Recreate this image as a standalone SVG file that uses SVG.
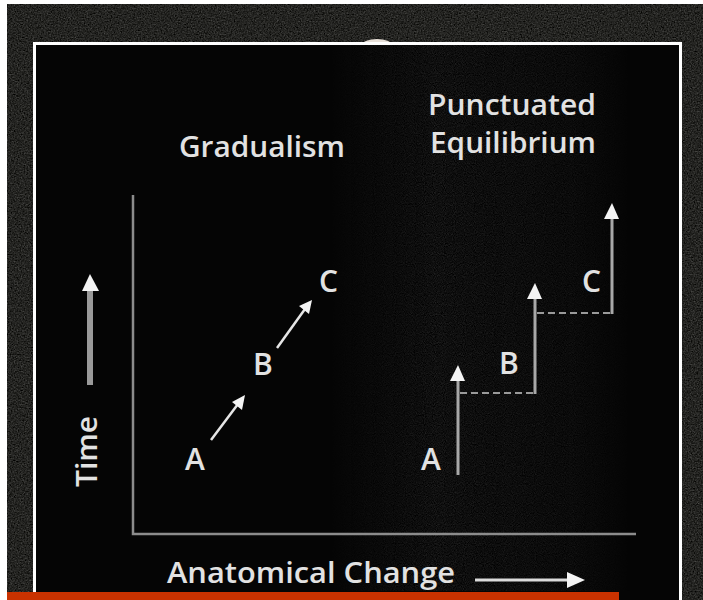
<svg xmlns="http://www.w3.org/2000/svg" width="703" height="600" viewBox="0 0 703 600">
  <defs>
    <style>
      .lbl { font-family: "Open Sans", "Noto Sans", "DejaVu Sans", sans-serif; font-weight: 600; fill: #e2e2e2; }
      .title { font-size: 29px; }
      .letter { font-size: 30px; }
      .axis { stroke: #8c8c8c; stroke-width: 2.5; fill: none; }
      .diag { stroke: #e6e6e6; stroke-width: 2.5; fill: none; }
      .vshaft { stroke: #a8a8a8; stroke-width: 3; fill: none; }
      .dash { stroke: #9a9a9a; stroke-width: 2; stroke-dasharray: 7 4; fill: none; }
      .head { fill: #f4f4f4; }
    </style>
    <filter id="noise" x="0" y="0" width="100%" height="100%" color-interpolation-filters="sRGB">
      <feTurbulence type="fractalNoise" baseFrequency="0.7" numOctaves="2" seed="4" result="t"/>
      <feColorMatrix in="t" type="matrix" values="0.2 0.2 0.2 0 -0.16  0.2 0.2 0.2 0 -0.16  0.2 0.2 0.2 0 -0.17  0 0 0 0 1"/>
    </filter>
    <filter id="noiseIn" x="0" y="0" width="100%" height="100%" color-interpolation-filters="sRGB">
      <feTurbulence type="fractalNoise" baseFrequency="1.1" numOctaves="1" seed="9" result="t"/>
      <feColorMatrix in="t" type="matrix" values="0.12 0.12 0.12 0 -0.12  0.12 0.12 0.12 0 -0.12  0.12 0.12 0.12 0 -0.12  0 0 0 0 1"/>
    </filter>
    <linearGradient id="fadeR" x1="0" y1="0" x2="1" y2="0">
      <stop offset="0" stop-color="#fff" stop-opacity="0"/>
      <stop offset="0.35" stop-color="#fff" stop-opacity="1"/>
      <stop offset="0.8" stop-color="#fff" stop-opacity="0.6"/>
      <stop offset="1" stop-color="#fff" stop-opacity="0"/>
    </linearGradient>
    <mask id="inMask">
      <rect x="330" y="45" width="300" height="550" fill="url(#fadeR)"/>
    </mask>
  </defs>

  <!-- page -->
  <rect x="0" y="0" width="703" height="600" fill="#ffffff"/>
  <rect x="7" y="4" width="696" height="596" fill="#1e1e1e"/>
  <rect x="7" y="4" width="696" height="596" filter="url(#noise)"/>
  <ellipse cx="377" cy="45" rx="15" ry="6" fill="#e8e0d8"/>

  <!-- frame -->
  <rect x="34.5" y="43.5" width="646" height="600" fill="#050505" stroke="#ffffff" stroke-width="3"/>
  <rect x="330" y="45" width="300" height="546" filter="url(#noiseIn)" mask="url(#inMask)"/>

  <!-- orange bar -->
  <rect x="7" y="592" width="612" height="8" fill="#c93200"/>

  <!-- titles -->
  <g id="title-gradualism">
    <text class="lbl title" x="179" y="157" textLength="166" lengthAdjust="spacingAndGlyphs">Gradualism</text>
  </g>
  <g id="title-punctuated">
    <text class="lbl title" x="428" y="115" textLength="168" lengthAdjust="spacingAndGlyphs">Punctuated</text>
    <text class="lbl title" x="430" y="153" textLength="166" lengthAdjust="spacingAndGlyphs">Equilibrium</text>
  </g>

  <!-- axis labels -->
  <g id="label-time">
    <text class="lbl title" transform="translate(97,487) rotate(-90)" x="0" y="0" textLength="71" lengthAdjust="spacingAndGlyphs">Time</text>
  </g>
  <g id="label-anatomical">
    <text class="lbl title" x="167" y="583" textLength="288" lengthAdjust="spacingAndGlyphs">Anatomical Change</text>
  </g>

  <!-- gradualism nodes -->
  <g id="g-A"><text class="lbl letter" x="185" y="470">A</text></g>
  <g id="g-B"><text class="lbl letter" x="253" y="375">B</text></g>
  <g id="g-C"><text class="lbl letter" x="319" y="292">C</text></g>

  <!-- punctuated nodes -->
  <g id="p-A"><text class="lbl letter" x="421" y="470">A</text></g>
  <g id="p-B"><text class="lbl letter" x="499" y="374">B</text></g>
  <g id="p-C"><text class="lbl letter" x="582" y="292">C</text></g>

  <!-- connectors -->
  <g id="connectors">
    <!-- axes -->
    <path class="axis" d="M133 195 V534 H636"/>

    <!-- time arrow -->
    <line x1="90" y1="385" x2="90" y2="290" stroke="#9a9a9a" stroke-width="6"/>
    <polygon class="head" points="90,274 82,291 99,291"/>

    <!-- anatomical change arrow -->
    <line x1="475" y1="580" x2="570" y2="580" stroke="#dcdcdc" stroke-width="3"/>
    <polygon class="head" points="585,580 567,572 567,588" fill="#d8d8d8"/>

    <!-- gradualism arrows -->
    <line class="diag" x1="211" y1="440" x2="238" y2="404"/>
    <polygon class="head" points="245,395 232,402 242,410"/>
    <line class="diag" x1="277" y1="348" x2="305" y2="309"/>
    <polygon class="head" points="312,300 299,306 309,314"/>

    <!-- punctuated steps -->
    <line class="vshaft" x1="458" y1="475" x2="458" y2="380"/>
    <polygon class="head" points="458,365 450,381 465,381"/>
    <line class="dash" x1="460" y1="393" x2="535" y2="393"/>

    <line class="vshaft" x1="535" y1="394" x2="535" y2="298"/>
    <polygon class="head" points="535,283 527,299 542,299"/>
    <line class="dash" x1="537" y1="313" x2="612" y2="313"/>

    <line class="vshaft" x1="612" y1="314" x2="612" y2="218"/>
    <polygon class="head" points="612,203 604,219 619,219"/>
  </g>
</svg>
